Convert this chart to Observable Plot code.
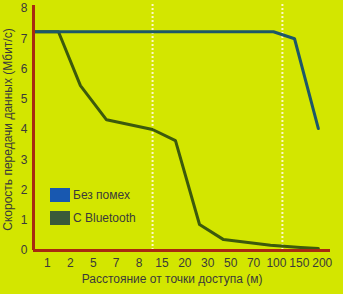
<!DOCTYPE html>
<html>
<head>
<meta charset="utf-8">
<script src="https://cdn.jsdelivr.net/npm/d3@7"></script>
<script src="https://cdn.jsdelivr.net/npm/@observablehq/plot@0.6"></script>
<style>
  html, body { margin: 0; padding: 0; background: #d3e600; }
  #wrap { position: relative; width: 343px; height: 294px; }
  .legend { position: absolute; left: 50px; font: 12px "Liberation Sans", sans-serif; color: #3a3a3a; }
  .legend div { display: flex; align-items: center; height: 14px; margin-bottom: 9px; }
  .legend span.sw { display: inline-block; width: 20px; height: 14px; margin-right: 3px; }
</style>
</head>
<body>
<div id="wrap"></div>
<script>
// Tick labels along the x axis (categorical distances, equally spaced)
const xLabels = ["1", "2", "5", "7", "8", "15", "20", "30", "50", "70", "100", "150", "200"];
const xTicks = d3.range(xLabels.length);
// Positions (in tick-index units) of the white dotted guide lines
const guideLines = [4.59, 10.26];
// Series: x in tick-index units, y in Mbit/s
const cleanX = [-0.61, 9.87, 10.79, 11.83];
const cleanY = [7.23, 7.23, 7.0, 4.03];
const btX = [-0.61, 0.48, 1.44, 2.58, 4.59, 5.59, 6.64, 7.69, 9.74, 11.05, 11.83];
const btY = [7.23, 7.23, 5.45, 4.32, 4.0, 3.63, 0.86, 0.36, 0.17, 0.1, 0.07];
const seriesNames = ["Без помех", "С Bluetooth"];
const seriesColors = ["#1d5868", "#3c5a0c"];
const legendColors = ["#1858b0", "#3a5a3a"];
const xTitle = "Расстояние от точки доступа (м)";
const yTitle = "Скорость передачи данных (Мбит/с)";

const clean = cleanX.map((x, i) => ({x, y: cleanY[i]}));
const bt = btX.map((x, i) => ({x, y: btY[i]}));

const font = '"Liberation Sans", sans-serif';
const chart = Plot.plot({
  width: 343,
  height: 294,
  marginLeft: 33,
  marginRight: 13,
  marginTop: 8,
  marginBottom: 44,
  style: {background: "#d3e600", fontFamily: font, fontSize: "12px", color: "#3a3a3a", overflow: "visible"},
  x: {type: "linear", domain: [-0.61, 12.36]},
  y: {domain: [0, 8]},
  marks: [
    Plot.ruleX(guideLines, {y1: 0, y2: 8.15, stroke: "#fff8c8", strokeWidth: 2, strokeDasharray: "2,2"}),
    Plot.line(bt, {x: "x", y: "y", stroke: seriesColors[1], strokeWidth: 3}),
    Plot.line(clean, {x: "x", y: "y", stroke: seriesColors[0], strokeWidth: 3}),
    Plot.axisX({ticks: xTicks, tickFormat: i => xLabels[i], tickSize: 0, tickPadding: 8, label: null, fill: "#3a3a3a"}),
    Plot.text([xTitle], {frameAnchor: "bottom", lineAnchor: "top", dy: 24, dx: -10, fill: "#3a3a3a", fontSize: 12}),
    Plot.axisY({ticks: d3.range(0, 9), tickSize: 0, tickPadding: 6,
      label: yTitle, labelAnchor: "center", labelArrow: "none", labelOffset: 30, fill: "#3a3a3a"}),
    Plot.ruleY([0], {stroke: "#a82a10", strokeWidth: 3}),
    Plot.ruleX([-0.61], {y1: 0, y2: 8.1, stroke: "#a82a10", strokeWidth: 3})
  ]
});

const wrap = document.getElementById("wrap");
wrap.appendChild(chart);
const legend = document.createElement("div");
legend.className = "legend";
legend.style.top = "188px";
seriesNames.forEach((name, i) => {
  const row = document.createElement("div");
  const sw = document.createElement("span");
  sw.className = "sw";
  sw.style.background = legendColors[i];
  row.appendChild(sw);
  row.appendChild(document.createTextNode(name));
  legend.appendChild(row);
});
wrap.appendChild(legend);
</script>
</body>
</html>
